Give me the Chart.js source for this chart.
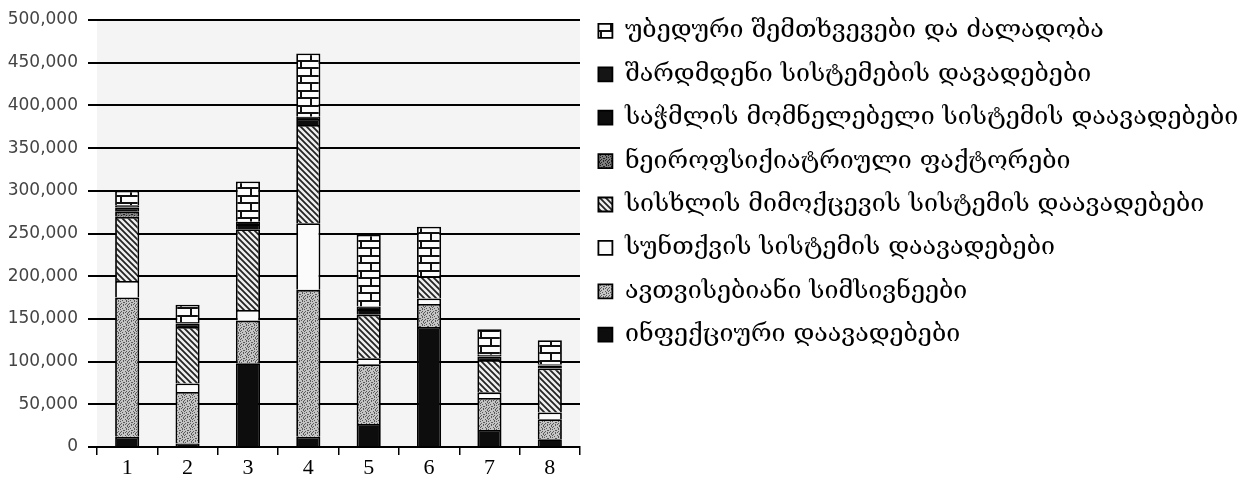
<!DOCTYPE html>
<html>
<head>
<meta charset="utf-8">
<script src="https://cdn.jsdelivr.net/npm/chart.js@4.4.1/dist/chart.umd.min.js"></script>
<style>
  html, body { margin: 0; padding: 0; background: #fff; }
  #wrap { position: relative; width: 1258px; height: 479px; }
</style>
</head>
<body>
<div id="wrap"><canvas id="deathsChart"></canvas></div>
<script>
// columns 1..8
var categories = ['1', '2', '3', '4', '5', '6', '7', '8'];

// series, bottom of the stack first
var infectious  = [12000, 4000, 98000, 12000, 27000, 140500, 20000, 9000];
var neoplasms   = [163000, 60500, 50000, 172000, 70000, 27000, 37500, 23500];
var respiratory = [19500, 10000, 12500, 78000, 7000, 6500, 6500, 8000];
var circulatory = [75000, 66000, 94500, 115000, 51000, 26000, 38000, 51500];
var neuro       = [6000, 0, 0, 0, 0, 0, 0, 0];
var digestive   = [5000, 4000, 6000, 7000, 6500, 0, 4000, 3500];
var urinary     = [2500, 2000, 2800, 2800, 3000, 0, 2000, 1500];
var accidents   = [17000, 20000, 47200, 74000, 84000, 58000, 30000, 28000];

var seriesNames = [
  'ინფექციური დაავადებები',
  'ავთვისებიანი სიმსივნეები',
  'სუნთქვის სისტემის დაავადებები',
  'სისხლის მიმოქცევის სისტემის დაავადებები',
  'ნეიროფსიქიატრიული ფაქტორები',
  'საჭმლის მომნელებელი სისტემის დაავადებები',
  'შარდმდენი სისტემების დავადებები',
  'უბედური შემთხვევები და ძალადობა'
];

var yTicks = [0, 50000, 100000, 150000, 200000, 250000, 300000, 350000, 400000, 450000, 500000];

// fill patterns
function makePattern(w, h, draw) {
  var c = document.createElement('canvas');
  c.width = w; c.height = h;
  var g = c.getContext('2d');
  draw(g);
  return g.createPattern(c, 'repeat');
}

var brick = makePattern(20, 15, function(g) {
  g.fillStyle = '#fcfcfc'; g.fillRect(0, 0, 20, 15);
  g.fillStyle = '#111';
  g.fillRect(0, 0, 20, 2); g.fillRect(0, 7, 20, 2);
  g.fillRect(0, 0, 2, 7); g.fillRect(10, 7, 2, 8);
});

var hatch = makePattern(6, 6, function(g) {
  g.fillStyle = '#eeeeee'; g.fillRect(0, 0, 6, 6);
  g.strokeStyle = '#222'; g.lineWidth = 1.8;
  g.beginPath();
  g.moveTo(-1, -1); g.lineTo(7, 7);
  g.moveTo(-4, 2); g.lineTo(2, 8);
  g.moveTo(2, -4); g.lineTo(8, 2);
  g.stroke();
});

function speckle(base, dot) {
  var map = ['#..#.#..', '...#...#', '.#.....#', '#....#..', '..#...#.', '#.....#.', '...##...', '.#....#.'];
  return makePattern(8, 8, function(g) {
    g.fillStyle = base; g.fillRect(0, 0, 8, 8);
    g.fillStyle = dot;
    for (var y = 0; y < 8; y++) {
      for (var x = 0; x < 8; x++) {
        if (map[y][x] === '#') g.fillRect(x, y, 1, 1);
      }
    }
  });
}

var fills = [
  '#0d0d0d',
  speckle('#c4c4c4', '#5a5a5a'),
  '#fbfbfb',
  hatch,
  speckle('#7d7d7d', '#222'),
  '#0d0d0d',
  '#151515',
  brick
];

var values = [infectious, neoplasms, respiratory, circulatory, neuro, digestive, urinary, accidents];

var datasets = [];
for (var i = 0; i < values.length; i++) {
  datasets.push({
    label: seriesNames[i],
    data: values[i],
    backgroundColor: fills[i],
    borderColor: '#000',
    borderWidth: 1.8,
    categoryPercentage: 0.8,
    barPercentage: 0.5
  });
}

var plotBg = {
  id: 'plotBg',
  beforeDraw: function(chart) {
    var a = chart.chartArea, ctx = chart.ctx;
    ctx.save();
    ctx.fillStyle = '#f4f4f4';
    ctx.fillRect(a.left, a.top, a.right - a.left, a.bottom - a.top);
    ctx.restore();
  }
};

var legendWidth = {
  id: 'legendWidth',
  beforeInit: function(chart) {
    var fit = chart.legend.fit;
    chart.legend.fit = function() {
      fit.bind(chart.legend)();
      this.width = 678;
    };
  }
};

new Chart(document.getElementById('deathsChart'), {
  type: 'bar',
  data: { labels: categories, datasets: datasets },
  plugins: [plotBg, legendWidth],
  options: {
    responsive: true,
    maintainAspectRatio: false,
    animation: false,
    layout: { padding: 0 },
    plugins: {
      tooltip: { enabled: false },
      legend: {
        position: 'right',
        align: 'start',
        reverse: true,
        labels: {
          boxWidth: 14,
          boxHeight: 14,
          padding: 18.4,
          color: '#000',
          font: { family: 'DejaVu Serif', size: 25 }
        }
      }
    },
    scales: {
      x: {
        stacked: true,
        afterFit: function(s) { s.height = 32; },
        border: { display: true, color: '#000', width: 2 },
        grid: { drawOnChartArea: false, drawTicks: true, tickLength: 8, color: '#000', lineWidth: 1.5 },
        ticks: {
          color: '#000',
          padding: 2,
          font: { family: 'Liberation Serif', size: 22, lineHeight: 1 }
        }
      },
      y: {
        stacked: true,
        min: 0,
        max: 500000,
        afterFit: function(s) { s.width = 97; s.paddingTop = 20; },
        afterBuildTicks: function(s) {
          s.ticks = yTicks.map(function(v) { return { value: v }; });
        },
        border: { display: false },
        grid: { color: '#000', lineWidth: 2, tickLength: 9, drawTicks: true },
        ticks: {
          color: '#444',
          padding: 10,
          font: { family: 'DejaVu Sans', size: 17 },
          callback: function(v) { return v.toLocaleString('en-US'); }
        }
      }
    }
  }
});
</script>
</body>
</html>
